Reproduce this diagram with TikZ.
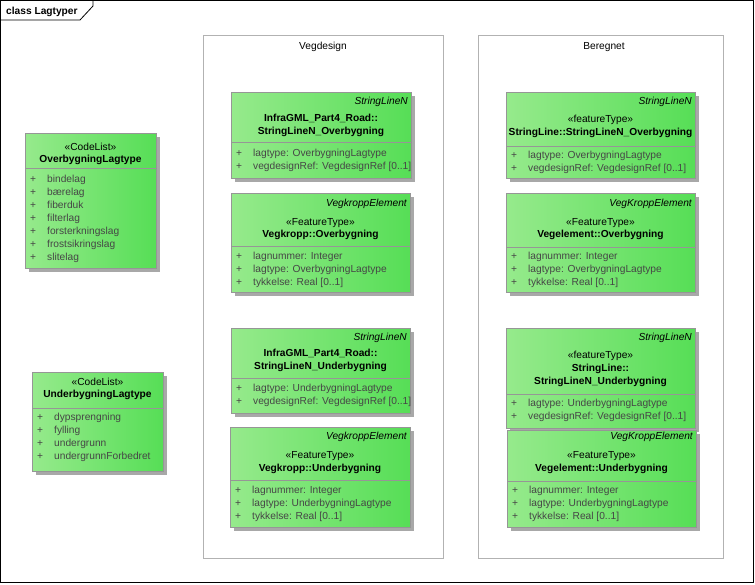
\documentclass[tikz,border=0pt]{standalone}
\usepackage{fontspec}
\setmainfont{Liberation Sans}
\usetikzlibrary{shadows}

\definecolor{umlA}{RGB}{150,234,140}
\definecolor{umlB}{RGB}{86,222,86}
\definecolor{umlline}{RGB}{150,150,150}
\definecolor{umlshadow}{RGB}{168,168,168}
\definecolor{pkgline}{RGB}{178,178,178}
\definecolor{attrtext}{RGB}{70,70,70}

% attribute rows of a class: name, left edge, first baseline, list
\newcommand{\umlattrs}[4]{%
  \foreach \a [count=\i] in {#4}{%
    \node[plus] (#1-p\i) at ({#2+8},{#3+13*(\i-1)}) {+};
    \node[attr] (#1-a\i) at ({#2+22},{#3+13*(\i-1)}) {\a};}}

\begin{document}
\begin{tikzpicture}[x=1pt, y=-1pt,
    every node/.style={font=\fontsize{10.2}{13}\selectfont, inner sep=0pt},
    cls/.style={draw=umlline, line width=0.8pt, left color=umlA, right color=umlB,
                anchor=north west, drop shadow={shadow xshift=4pt, shadow yshift=-4pt,
                fill=umlshadow, opacity=1}},
    sepline/.style={draw=umlline, line width=0.8pt},
    pkg/.style={draw=pkgline, line width=0.8pt, anchor=north west},
    stereo/.style={anchor=base},
    cname/.style={anchor=base, font=\fontsize{10.2}{13}\selectfont\bfseries},
    tag/.style={anchor=base east, font=\fontsize{10.2}{13}\selectfont\itshape},
    plus/.style={anchor=base, text=attrtext},
    attr/.style={anchor=base west, text=attrtext},
]
\useasboundingbox (0,0) rectangle (755,584);

% frame
\draw[line width=0.8pt] (0.5,0.5) rectangle (753.5,582.5);
\draw[line width=0.8pt] (0.5,20) -- (80,20) -- (93,6) -- (93,0.5);
\node[anchor=base west, font=\fontsize{10.2}{13}\selectfont\bfseries] (frm) at (6,14) {class Lagtyper};

% packages
\node[pkg, minimum width=240, minimum height=523] (pkgVD) at (203,35) {};
\node[anchor=base] (pkgVD-t) at (323,49) {Vegdesign};
\node[pkg, minimum width=245, minimum height=523] (pkgB) at (478,35) {};
\node[anchor=base] (pkgB-t) at (604,49) {Beregnet};

% code lists
\node[cls, minimum width=131, minimum height=135] (olt) at (25,133) {};
\node[stereo] (olt-s) at (90.5,150.5) {«CodeList»};
\node[cname] (olt-n) at (90.5,162) {OverbygningLagtype};
\draw[sepline] (25,168) -- (156,168);
\umlattrs{olt}{25}{182}{bindelag,bærelag,fiberduk,filterlag,forsterkningslag,frostsikringslag,slitelag}

\node[cls, minimum width=131, minimum height=99] (ult) at (32,372) {};
\node[stereo] (ult-s) at (97.5,385.5) {«CodeList»};
\node[cname] (ult-n) at (97.5,397.5) {UnderbygningLagtype};
\draw[sepline] (32,408) -- (163,408);
\umlattrs{ult}{32}{420}{dypsprengning,fylling,undergrunn,undergrunnForbedret}

% Vegdesign
\node[cls, minimum width=180, minimum height=86] (vdOver) at (231,92) {};
\node[tag] (vdOver-t) at (408,104) {StringLineN};
\node[cname] (vdOver-n1) at (321,121) {InfraGML\_Part4\_Road::};
\node[cname] (vdOver-n2) at (321,134) {StringLineN\_Overbygning};
\draw[sepline] (231,142) -- (411,142);
\umlattrs{vdOver}{231}{156}{lagtype: OverbygningLagtype,vegdesignRef: VegdesignRef [0..1]}

\node[cls, minimum width=179, minimum height=99] (vkOver) at (231,193) {};
\node[tag] (vkOver-t) at (407,206) {VegkroppElement};
\node[stereo] (vkOver-s) at (320.5,225) {«FeatureType»};
\node[cname] (vkOver-n) at (320.5,237.5) {Vegkropp::Overbygning};
\draw[sepline] (231,246) -- (410,246);
\umlattrs{vkOver}{231}{259}{lagnummer: Integer,lagtype: OverbygningLagtype,tykkelse: Real [0..1]}

\node[cls, minimum width=179, minimum height=85] (vdUnder) at (231,328) {};
\node[tag] (vdUnder-t) at (407,340) {StringLineN};
\node[cname] (vdUnder-n1) at (320.5,356) {InfraGML\_Part4\_Road::};
\node[cname] (vdUnder-n2) at (320.5,369) {StringLineN\_Underbygning};
\draw[sepline] (231,378) -- (410,378);
\umlattrs{vdUnder}{231}{391.5}{lagtype: UnderbygningLagtype,vegdesignRef: VegdesignRef [0..1]}

\node[cls, minimum width=180, minimum height=100] (vkUnder) at (230,427) {};
\node[tag] (vkUnder-t) at (407,439) {VegkroppElement};
\node[stereo] (vkUnder-s) at (320,458) {«FeatureType»};
\node[cname] (vkUnder-n) at (320,471) {Vegkropp::Underbygning};
\draw[sepline] (230,480) -- (410,480);
\umlattrs{vkUnder}{230}{493}{lagnummer: Integer,lagtype: UnderbygningLagtype,tykkelse: Real [0..1]}

% Beregnet
\node[cls, minimum width=189, minimum height=86] (bsOver) at (506,92) {};
\node[tag] (bsOver-t) at (692,104) {StringLineN};
\node[stereo] (bsOver-s) at (600.5,122.5) {«featureType»};
\node[cname] (bsOver-n) at (600.5,135.5) {StringLine::StringLineN\_Overbygning};
\draw[sepline] (506,146) -- (695,146);
\umlattrs{bsOver}{506}{158}{lagtype: OverbygningLagtype,vegdesignRef: VegdesignRef [0..1]}

\node[cls, minimum width=189, minimum height=99] (veOver) at (506,193) {};
\node[tag] (veOver-t) at (692,206) {VegKroppElement};
\node[stereo] (veOver-s) at (600.5,225) {«FeatureType»};
\node[cname] (veOver-n) at (600.5,237.5) {Vegelement::Overbygning};
\draw[sepline] (506,247) -- (695,247);
\umlattrs{veOver}{506}{259}{lagnummer: Integer,lagtype: OverbygningLagtype,tykkelse: Real [0..1]}

\node[cls, minimum width=189, minimum height=100] (bsUnder) at (506,328) {};
\node[tag] (bsUnder-t) at (692,340) {StringLineN};
\node[stereo] (bsUnder-s) at (600.5,358) {«featureType»};
\node[cname] (bsUnder-n1) at (600.5,371.5) {StringLine::};
\node[cname] (bsUnder-n2) at (600.5,384.5) {StringLineN\_Underbygning};
\draw[sepline] (506,394) -- (695,394);
\umlattrs{bsUnder}{506}{406.5}{lagtype: UnderbygningLagtype,vegdesignRef: VegdesignRef [0..1]}

\node[cls, minimum width=189, minimum height=97] (veUnder) at (507,430) {};
\node[tag] (veUnder-t) at (693,439) {VegKroppElement};
\node[stereo] (veUnder-s) at (601.5,458) {«FeatureType»};
\node[cname] (veUnder-n) at (601.5,471) {Vegelement::Underbygning};
\draw[sepline] (507,481) -- (696,481);
\umlattrs{veUnder}{507}{493}{lagnummer: Integer,lagtype: UnderbygningLagtype,tykkelse: Real [0..1]}
\end{tikzpicture}
\end{document}
